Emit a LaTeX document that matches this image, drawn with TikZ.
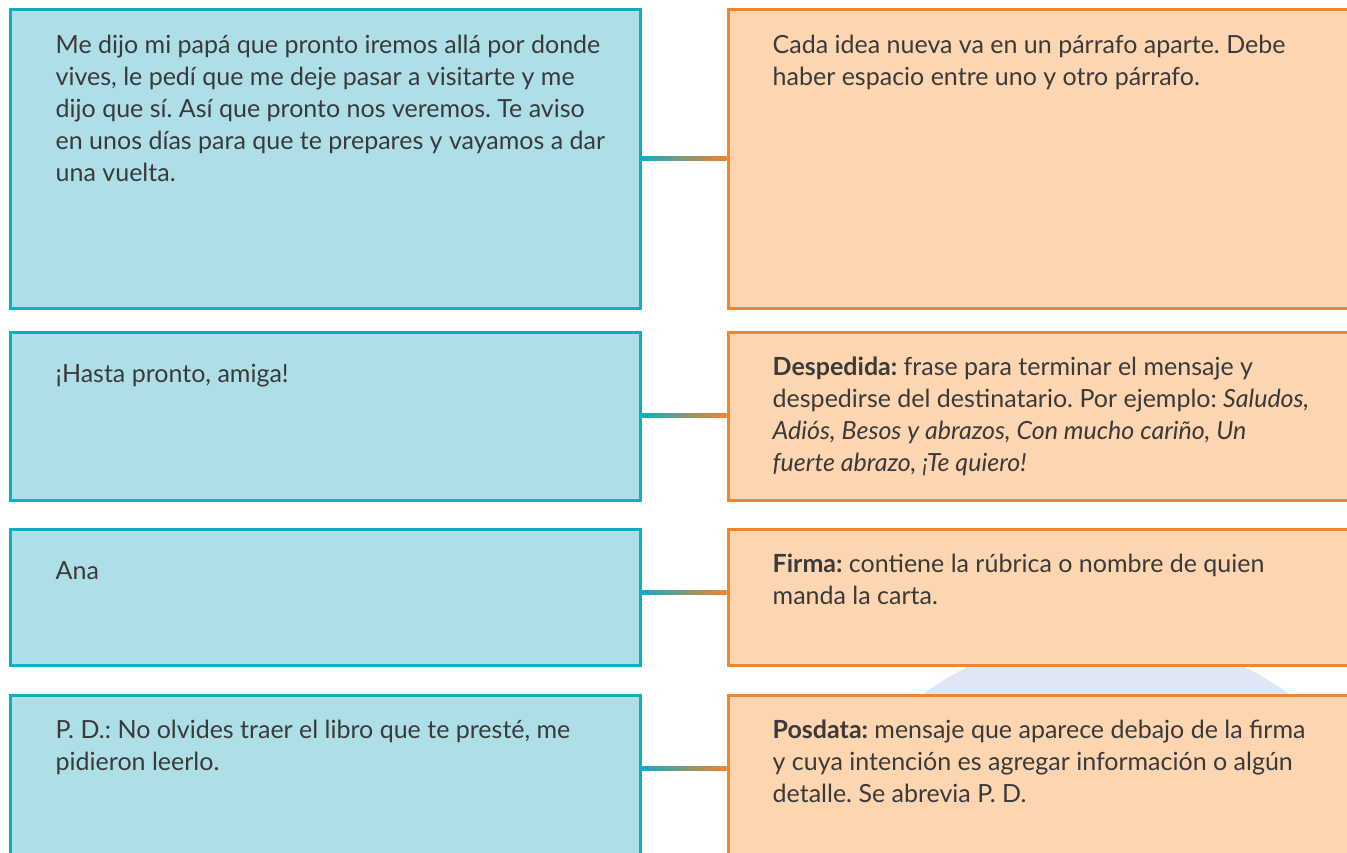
\documentclass[tikz,border=0pt]{standalone}
\usepackage{fontspec}
\setmainfont{Lato}
\usetikzlibrary{calc}
\frenchspacing

\definecolor{tealline}{HTML}{0AAFC1}
\definecolor{tealfill}{HTML}{AEDFE6}
\definecolor{orangeline}{HTML}{F5842A}
\definecolor{orangefill}{HTML}{FDD5B1}
\definecolor{blobfill}{HTML}{DFE6F5}
\definecolor{inktext}{HTML}{3A3A3A}

\tikzset{
    leftbox/.style = {draw=tealline, fill=tealfill, line width=3pt, inner sep=0pt, minimum width=630pt},
    rightbox/.style = {draw=orangeline, fill=orangefill, line width=3pt, inner sep=0pt, minimum width=637pt},
    boxtext/.style = {anchor=north west, inner sep=0pt, align=left, text=inktext,
        font=\fontsize{25}{32}\selectfont, execute at begin node={\rule{0pt}{25pt}}},
    link/.style = {left color=tealline, right color=orangeline}
}

\begin{document}
\begin{tikzpicture}[x=1pt, y=-1pt]
    \useasboundingbox (0,0) rectangle (1347,853);
    \clip (0,0) rectangle (1347,853);

    % circle behind the right column
    \fill[blobfill] (1106,949) circle[radius=314pt];

    % left column: the letter
    \node[leftbox, minimum height=298pt] (l1) at (325,159) {};
    \node[leftbox, minimum height=168pt] (l2) at (325,416) {};
    \node[leftbox, minimum height=136pt] (l3) at (325,597) {};
    \node[leftbox, minimum height=180pt] (l4) at (325,785) {};

    % right column: the explanations
    \node[rightbox, minimum height=298pt] (r1) at (1046.5,159) {};
    \node[rightbox, minimum height=168pt] (r2) at (1046.5,416) {};
    \node[rightbox, minimum height=136pt] (r3) at (1046.5,597) {};
    \node[rightbox, minimum height=180pt] (r4) at (1046.5,785) {};

    % links between the two columns
    \foreach \row/\dy in {1/0, 2/-1, 3/-5, 4/-17} {
        \shade[link] ($(l\row.east)+(0,\dy-2)$) rectangle ($(r\row.west)+(0,\dy+2)$);
    }

    \node[boxtext] (lt1) at ($(l1.north west)+(47,26.5)$)
        {Me dijo mi papá que pronto iremos allá por donde\\
         vives, le pedí que me deje pasar a visitarte y me\\
         dijo que sí. Así que pronto nos veremos. Te aviso\\
         en unos días para que te prepares y vayamos a dar\\
         una vuelta.};
    \node[boxtext] (lt2) at ($(l2.north west)+(47,26.5)$) {¡Hasta pronto, amiga!};
    \node[boxtext] (lt3) at ($(l3.north west)+(47,26.5)$) {Ana};
    \node[boxtext] (lt4) at ($(l4.north west)+(47,26.5)$)
        {P. D.: No olvides traer el libro que te presté, me\\
         pidieron leerlo.};

    \node[boxtext] (rt1) at ($(r1.north west)+(46,26.5)$)
        {Cada idea nueva va en un párrafo aparte. Debe\\
         haber espacio entre uno y otro párrafo.};
    \node[boxtext] (rt2) at ($(r2.north west)+(46,26.5)$)
        {\textbf{Despedida:} frase para terminar el mensaje y\\
         despedirse del destinatario. Por ejemplo: \textit{Saludos,}\\
         \textit{Adiós, Besos y abrazos, Con mucho cariño, Un}\\
         \textit{fuerte abrazo, ¡Te quiero!}};
    \node[boxtext] (rt3) at ($(r3.north west)+(46,26.5)$)
        {\textbf{Firma:} contiene la rúbrica o nombre de quien\\
         manda la carta.};
    \node[boxtext] (rt4) at ($(r4.north west)+(46,26.5)$)
        {\textbf{Posdata:} mensaje que aparece debajo de la firma\\
         y cuya intención es agregar información o algún\\
         detalle. Se abrevia P. D.};
\end{tikzpicture}
\end{document}
